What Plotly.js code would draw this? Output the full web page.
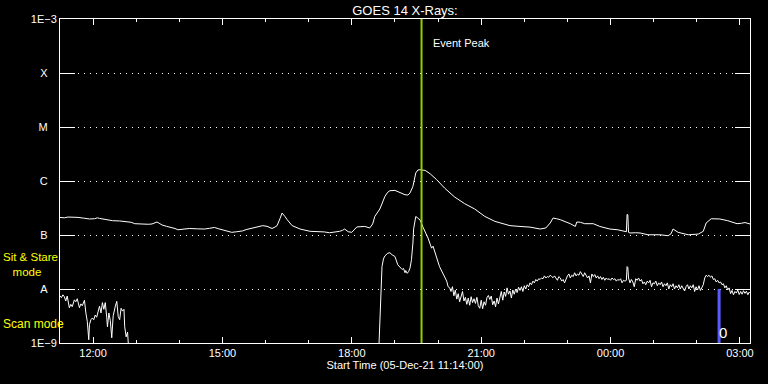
<!DOCTYPE html>
<html>
<head>
<meta charset="utf-8">
<script src="https://cdn.plot.ly/plotly-3.0.1.min.js"></script>
<style>
html,body{margin:0;padding:0;background:#000;}
#chart{width:768px;height:384px;}
</style>
</head>
<body>
<div id="chart"></div>
<script>
// GOES 14 X-ray flux, 05-Dec-21 11:14 to 06-Dec-21 03:14 (times HH:MM; before 11:00 = next day)
const longTime = ['11:14','11:20','11:25','11:32','11:39','11:47','11:55','12:02','12:06','12:09','12:18','12:27','12:37','12:47','12:53','12:58','13:05','13:12','13:17','13:22','13:29','13:33','13:36','13:42','13:49','13:54','13:58','14:06','14:14','14:25','14:35','14:42','14:49','14:55','14:59','15:06','15:13','15:20','15:28','15:33','15:38','15:44','15:49','15:56','16:02','16:09','16:13','16:16','16:20','16:23','16:27','16:30','16:37','16:48','17:02','17:15','17:22','17:29','17:36','17:43','17:47','17:50','17:55','18:00','18:07','18:13','18:18','18:25','18:29','18:32','18:36','18:39','18:43','18:46','18:50','18:53','19:00','19:07','19:14','19:18','19:21','19:25','19:29','19:32','19:35','19:42','19:49','19:58','20:09','20:23','20:37','20:51','21:05','21:19','21:33','21:40','21:54','22:08','22:22','22:30','22:36','22:40','22:45','22:50','23:04','23:11','23:13','23:18','23:24','23:36','23:45','23:59','00:10','00:20','00:22','00:23','00:24','00:25','00:27','00:35','00:41','00:52','01:09','01:20','01:24','01:27','01:34','01:48','02:02','02:09','02:13','02:20','02:32','02:43','02:56','03:02','03:07','03:14'];
const longFlux = [2.12e-7,2.08e-7,2.15e-7,2.14e-7,2.12e-7,2.05e-7,1.98e-7,2.0e-7,2.08e-7,2.03e-7,1.92e-7,1.84e-7,1.82e-7,1.79e-7,1.72e-7,1.62e-7,1.60e-7,1.55e-7,1.58e-7,1.60e-7,1.74e-7,1.62e-7,1.53e-7,1.45e-7,1.38e-7,1.32e-7,1.25e-7,1.30e-7,1.32e-7,1.30e-7,1.29e-7,1.33e-7,1.38e-7,1.30e-7,1.25e-7,1.18e-7,1.12e-7,1.15e-7,1.19e-7,1.26e-7,1.31e-7,1.36e-7,1.41e-7,1.49e-7,1.45e-7,1.32e-7,1.40e-7,1.49e-7,2.0e-7,2.55e-7,2.2e-7,1.92e-7,1.49e-7,1.29e-7,1.17e-7,1.17e-7,1.14e-7,1.10e-7,1.13e-7,1.17e-7,1.22e-7,1.29e-7,1.15e-7,1.12e-7,1.41e-7,1.45e-7,1.44e-7,1.35e-7,1.6e-7,2.21e-7,2.6e-7,3.03e-7,4.1e-7,5.19e-7,6.2e-7,6.61e-7,6.70e-7,6.15e-7,5.57e-7,5.5e-7,6.00e-7,7.94e-7,1.41e-6,1.6e-6,1.62e-6,1.57e-6,1.36e-6,1.06e-6,7.41e-7,5.06e-7,3.80e-7,3.03e-7,2.21e-7,1.79e-7,1.55e-7,1.49e-7,1.44e-7,1.40e-7,1.29e-7,1.35e-7,1.67e-7,2.06e-7,2.0e-7,1.92e-7,1.62e-7,1.44e-7,1.74e-7,1.72e-7,1.62e-7,1.62e-7,1.44e-7,1.29e-7,1.25e-7,1.17e-7,1.15e-7,2.4e-7,2.38e-7,1.12e-7,1.09e-7,1.10e-7,1.09e-7,1.01e-7,1.01e-7,0.97e-7,1.05e-7,1.29e-7,1.12e-7,1.01e-7,1.04e-7,1.17e-7,1.67e-7,2.0e-7,1.98e-7,1.84e-7,1.62e-7,1.65e-7,1.70e-7,1.60e-7];

const shortTime = ['11:14','11:16','11:18','11:20','11:22','11:24','11:27','11:29','11:31','11:34','11:36','11:38','11:41','11:43','11:45','11:48','11:50','11:52','11:54','11:55','11:57','11:59','12:01','12:03','12:05','12:07','12:09','12:11','12:13','12:15','12:17','12:19','12:20','12:22','12:24','12:26','12:28','12:31','12:33','12:35','12:37','12:39','12:41','12:43','12:44','12:46','12:48','12:50','15:00',
'18:37','18:38','18:39','18:40','18:41','18:42','18:44','18:46','18:50','18:53','18:56','19:00','19:04','19:08','19:10','19:12','19:14','19:15','19:17','19:19','19:21','19:23','19:24','19:25','19:26','19:28','19:29','19:31','19:35','19:39','19:43','19:46','19:51','19:53','20:02','20:07','20:12','20:14','20:16',
'20:18','20:20','20:22','20:24','20:26','20:28','20:30','20:32','20:34','20:36','20:38','20:40','20:42','20:44','20:46','20:48','20:50','20:52','20:54','20:56','20:58','21:00','21:02','21:04','21:06','21:08','21:10','21:12','21:14','21:16','21:18','21:20','21:22','21:24','21:26','21:28','21:30','21:32','21:34','21:36','21:38','21:40',
'21:42','21:44','21:46','21:48','21:50','21:52','21:54','21:56','21:58','22:00','22:02','22:04','22:06','22:08','22:10','22:12','22:14','22:16','22:18','22:20','22:22','22:24','22:26','22:28','22:30','22:32','22:34','22:36','22:38','22:40','22:42','22:44','22:46','22:48','22:50','22:52','22:54','22:56','22:58',
'23:00','23:02','23:04','23:06','23:08','23:10','23:12','23:14','23:16','23:18','23:20','23:22','23:24','23:26','23:28','23:30','23:32','23:34','23:36','23:38','23:40','23:42','23:44','23:46','23:48','23:50','23:52','23:54','23:56','23:58',
'00:00','00:02','00:04','00:06','00:08','00:10','00:12','00:14','00:16','00:18','00:20','00:22','00:23','00:24','00:25','00:27','00:29','00:31','00:33','00:35','00:37','00:39','00:41','00:43','00:45','00:47','00:49','00:51','00:53','00:55','00:57','00:59',
'01:01','01:03','01:05','01:07','01:09','01:11','01:13','01:15','01:17','01:19','01:21','01:23','01:25','01:27','01:29','01:31','01:33','01:35','01:37','01:39','01:41','01:43','01:45','01:47','01:49','01:51','01:53','01:55','01:57','01:59',
'02:01','02:03','02:05','02:07','02:09','02:11','02:13','02:15','02:17','02:19','02:21','02:23','02:25','02:27','02:29','02:31','02:33','02:35','02:37','02:39','02:41','02:43','02:45','02:47','02:49','02:51','02:53','02:55','02:57','02:59',
'03:01','03:03','03:05','03:07','03:09','03:11','03:13','03:14'];
const shortFlux = [7.5e-9,6.9e-9,7.8e-9,7.2e-9,6.0e-9,7.4e-9,4.5e-9,5.2e-9,4.7e-9,6.3e-9,5.8e-9,6.6e-9,4.5e-9,5.3e-9,4.9e-9,6.2e-9,3.6e-9,2.5e-9,1.15e-9,2.2e-9,2.7e-9,2.9e-9,2.7e-9,3.3e-9,3.0e-9,4.0e-9,4.8e-9,3.6e-9,5.6e-9,4.2e-9,5.6e-9,3.0e-9,2.0e-9,3.6e-9,2.6e-9,1.25e-9,3.2e-9,4.8e-9,5.9e-9,3.1e-9,2.7e-9,4.4e-9,3.9e-9,4.2e-9,2.0e-9,1.3e-9,1.6e-9,0.6e-9,null,
5e-10,1.1e-9,2.4e-9,6.3e-9,1.4e-8,2.6e-8,3.6e-8,4.1e-8,4.6e-8,4.7e-8,4.3e-8,4.0e-8,2.8e-8,2.5e-8,2.3e-8,2.4e-8,2.0e-8,2.2e-8,1.95e-8,2.1e-8,2.45e-8,3.5e-8,4.7e-8,7.1e-8,1.3e-7,1.9e-7,2.2e-7,2.1e-7,1.9e-7,1.4e-7,1.1e-7,8.8e-8,5.7e-8,6.2e-8,2.6e-8,1.9e-8,1.4e-8,1.1e-8,1.06e-8,
9.0e-9,1.1e-8,7.5e-9,9.5e-9,6.5e-9,8.2e-9,5.8e-9,7.4e-9,9.0e-9,6.0e-9,7.0e-9,5.2e-9,6.8e-9,5.0e-9,7.2e-9,5.6e-9,6.6e-9,5.4e-9,7.0e-9,4.9e-9,4.4e-9,6.2e-9,4.3e-9,5.8e-9,5.0e-9,6.9e-9,7.6e-9,6.4e-9,7.4e-9,5.1e-9,6.0e-9,4.7e-9,6.8e-9,5.3e-9,7.4e-9,9.0e-9,6.2e-9,8.8e-9,7.3e-9,1.05e-8,8.0e-9,9.2e-9,
6.8e-9,9.6e-9,8.0e-9,1.0e-8,8.6e-9,1.08e-8,9.4e-9,1.1e-8,9.0e-9,1.15e-8,1.0e-8,1.2e-8,1.1e-8,1.3e-8,1.2e-8,1.4e-8,1.3e-8,1.5e-8,1.4e-8,1.55e-8,1.5e-8,1.6e-8,1.55e-8,1.75e-8,1.6e-8,1.7e-8,1.65e-8,1.8e-8,1.7e-8,1.62e-8,1.75e-8,1.55e-8,1.45e-8,1.7e-8,1.6e-8,1.4e-8,1.5e-8,1.3e-8,1.55e-8,
1.75e-8,1.9e-8,1.6e-8,1.8e-8,1.7e-8,2.0e-8,1.75e-8,1.9e-8,1.8e-8,2.1e-8,1.85e-8,1.7e-8,2.0e-8,1.8e-8,1.6e-8,1.75e-8,1.3e-8,1.9e-8,1.7e-8,1.85e-8,1.6e-8,1.75e-8,1.55e-8,1.7e-8,1.5e-8,1.65e-8,1.45e-8,1.6e-8,1.5e-8,1.55e-8,
1.45e-8,1.6e-8,1.5e-8,1.55e-8,1.4e-8,1.5e-8,1.45e-8,1.55e-8,1.3e-8,1.45e-8,1.4e-8,1.45e-8,2.6e-8,2.5e-8,1.6e-8,1.3e-8,1.5e-8,1.35e-8,1.1e-8,1.55e-8,1.45e-8,1.6e-8,1.4e-8,1.5e-8,1.25e-8,1.35e-8,1.2e-8,1.4e-8,1.3e-8,1.45e-8,1.1e-8,1.3e-8,
1.25e-8,1.4e-8,1.15e-8,1.3e-8,1.2e-8,1.35e-8,1.1e-8,1.25e-8,1.15e-8,1.3e-8,1.0e-8,1.2e-8,1.1e-8,1.25e-8,1.0e-8,1.15e-8,1.05e-8,1.2e-8,1.0e-8,1.15e-8,1.05e-8,9.2e-9,1.1e-8,1.2e-8,1.0e-8,1.15e-8,1.05e-8,1.2e-8,9.0e-9,1.1e-8,
9.6e-9,1.15e-8,9.4e-9,1.05e-8,1.2e-8,1.6e-8,1.8e-8,1.7e-8,1.8e-8,1.65e-8,1.75e-8,1.5e-8,1.55e-8,1.35e-8,1.45e-8,1.3e-8,1.35e-8,1.2e-8,1.25e-8,1.05e-8,1.15e-8,9.6e-9,1.05e-8,8.2e-9,9.4e-9,7.8e-9,9.0e-9,8.4e-9,9.6e-9,7.9e-9,
9.0e-9,8.0e-9,9.3e-9,8.3e-9,9.1e-9,7.8e-9,8.8e-9,8.5e-9];

const xRange = ['11:14','03:14'];
const xTickTimes = ['12:00','15:00','18:00','21:00','00:00','03:00'];
const xTickText = ['12:00','15:00','18:00','21:00','00:00','03:00'];
const yTickVals = [1e-9,1e-8,1e-7,1e-6,1e-5,1e-4,1e-3];
const yTickText = ['1E\u22129','A','B','C','M','X','1E\u22123'];
const eventPeakTime = '19:37';
const markerTime = '02:31';
const markerFlux = [1e-9, 1e-8];
const fullFlux = [1e-9, 1e-3];

function toDate(t){ return (t < '11:00' ? '2021-12-06 ' : '2021-12-05 ') + t; }
const pad = '\u00a0\u00a0\u00a0';
const yTickLabels = yTickText.map(s => s.length === 1 ? s + pad : s);

const FONT = 'Liberation Sans, Arial, sans-serif';

const traces = [
  {x: longTime.map(toDate), y: longFlux, type:'scatter', mode:'lines', line:{color:'#ffffff', width:1}, hoverinfo:'skip'},
  {x: shortTime.map(toDate), y: shortFlux, type:'scatter', mode:'lines', line:{color:'#ffffff', width:1}, hoverinfo:'skip', connectgaps:false},
  {x: [toDate(eventPeakTime), toDate(eventPeakTime)], y: fullFlux, type:'scatter', mode:'lines', line:{color:'#99cc00', width:2}, hoverinfo:'skip'},
  {x: [toDate(markerTime), toDate(markerTime)], y: markerFlux, type:'scatter', mode:'lines', line:{color:'#5a5aff', width:3}, hoverinfo:'skip'}
];

const layout = {
  width:768, height:384,
  margin:{l:60, r:18, t:19, b:41},
  paper_bgcolor:'#000000', plot_bgcolor:'#000000',
  showlegend:false,
  font:{family:FONT, color:'#ffffff', size:11},
  title:{text:'GOES 14 X-Rays:', x:0.5, xref:'paper', xanchor:'center', y:1-10/384, yref:'container', yanchor:'middle', font:{family:FONT, size:13, color:'#ffffff'}},
  xaxis:{
    type:'date', range: xRange.map(toDate),
    tickmode:'array', tickvals: xTickTimes.map(toDate), ticktext: xTickText,
    ticks:'inside', ticklen:6, tickwidth:1, tickcolor:'#ffffff',
    minor:{tickmode:'linear', tick0:'2021-12-05 12:00', dtick:3600000, ticks:'inside', ticklen:3, tickwidth:1, tickcolor:'#ffffff', showgrid:false},
    showline:true, linecolor:'#ffffff', linewidth:1, mirror:'allticks',
    showgrid:false, zeroline:false,
    tickfont:{family:FONT, size:11, color:'#ffffff'},
    title:{text:'Start Time (05-Dec-21 11:14:00)', standoff:3, font:{family:FONT, size:11, color:'#ffffff'}}
  },
  yaxis:{
    type:'log', range:[-9,-3],
    tickmode:'array', tickvals: yTickVals, ticktext: yTickLabels,
    ticks:'inside', ticklen:15, tickwidth:1, tickcolor:'#ffffff',
    showline:true, linecolor:'#ffffff', linewidth:1, mirror:'allticks',
    showgrid:true, gridcolor:'#ffffff', gridwidth:1, griddash:'1px,5px',
    zeroline:false,
    tickfont:{family:FONT, size:11, color:'#ffffff'}
  },
  annotations:[
    {text:'Event Peak', xref:'x', x: toDate(eventPeakTime), xanchor:'left', xshift:9, yref:'paper', y:(343.3-43)/324, yanchor:'middle', showarrow:false, font:{family:FONT, size:11, color:'#ffffff'}},
    {text:'Sit & Stare<br>\u00a0\u00a0\u00a0mode', align:'left', xref:'paper', x:(1-60)/690, xanchor:'left', yref:'paper', y:(343.3-265)/324, yanchor:'middle', showarrow:false, font:{family:FONT, size:11.5, color:'#ffff00'}},
    {text:'Scan mode', xref:'paper', x:(1-60)/690, xanchor:'left', yref:'paper', y:(343.3-324)/324, yanchor:'middle', showarrow:false, font:{family:FONT, size:12, color:'#ffff00'}},
    {text:'0', xref:'x', x: toDate(markerTime), xanchor:'center', xshift:4, yref:'paper', y:(343.3-333)/324, yanchor:'middle', showarrow:false, font:{family:FONT, size:15, color:'#ffffff'}}
  ]
};

Plotly.newPlot('chart', traces, layout, {staticPlot:true, displayModeBar:false});
</script>
</body>
</html>
